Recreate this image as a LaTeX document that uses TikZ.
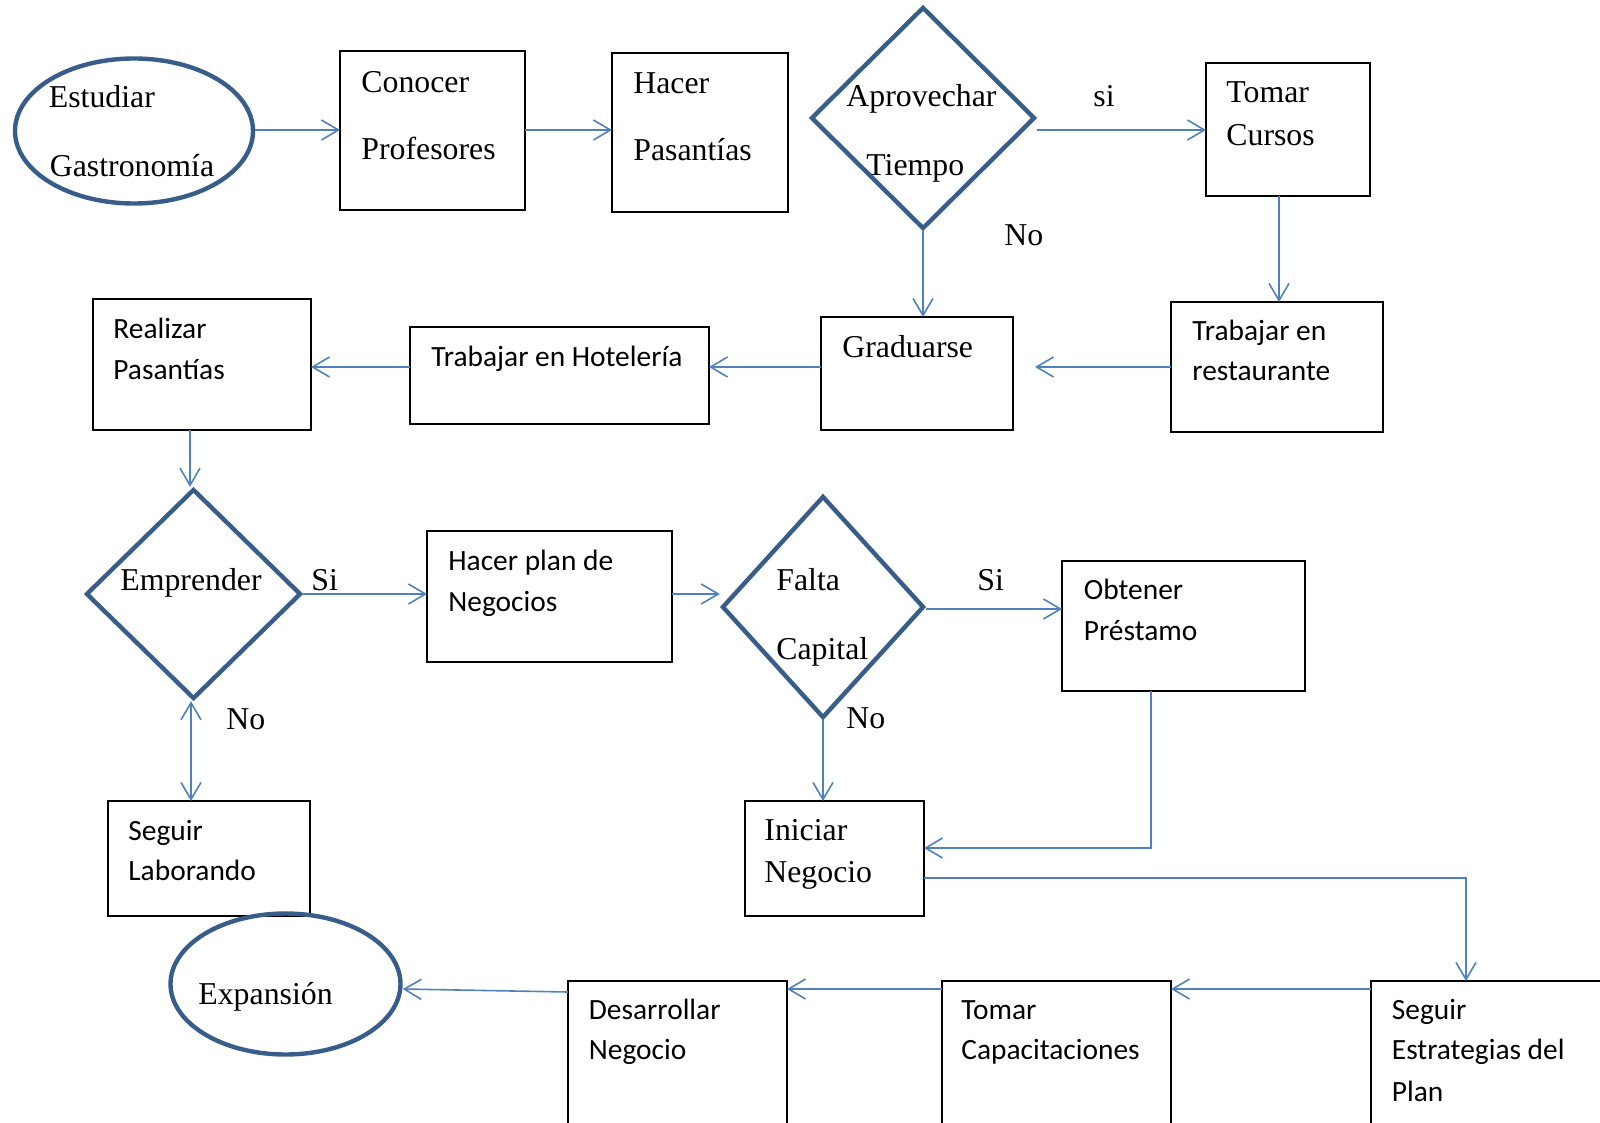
\documentclass[tikz,border=0pt]{standalone}
\usepackage{fontspec}
\usetikzlibrary{shapes.geometric,arrows.meta}
\newfontfamily\timesfont{Liberation Serif}
\newfontfamily\calibrifont{Carlito}
\definecolor{conn}{HTML}{4F81BD}
\definecolor{shapeblue}{HTML}{385D8A}

\begin{document}
\begin{tikzpicture}[x=0.5pt,y=-0.5pt,
  box/.style={draw=black,line width=0.9pt,rectangle,inner sep=0pt,outer sep=0pt,anchor=north west},
  oval/.style={draw=shapeblue,line width=2.2pt,ellipse,inner sep=0pt},
  decision/.style={draw=shapeblue,line width=2.2pt,diamond,inner sep=0pt,line join=miter},
  serif/.style={font=\timesfont\fontsize{15.9}{19}\selectfont,inner sep=0pt,anchor=base west},
  sans/.style={font=\calibrifont\fontsize{14.7}{18}\selectfont,inner sep=0pt,anchor=base west},
  tip/.style={Straight Barb[length=8.5pt,width=10pt,line width=0.8pt]},
  arr/.style={draw=conn,line width=0.8pt,-{Straight Barb[length=8.5pt,width=10pt]}},
  arrboth/.style={draw=conn,line width=0.8pt,{Straight Barb[length=8.5pt,width=10pt]}-{Straight Barb[length=8.5pt,width=10pt]}},
  link/.style={draw=conn,line width=0.8pt}
]
\useasboundingbox (0,0) rectangle (1600,1123);
\clip (0,0) rectangle (1600,1123);

% ---------- shapes ----------
\node[oval,minimum width=119pt,minimum height=72.5pt] (est) at (134,131) {};
\node[box,minimum width=92.5pt,minimum height=79.5pt] (con) at (340,51) {};
\node[box,minimum width=88pt,minimum height=79.5pt] (hac) at (612,53) {};
\node[decision,minimum width=112pt,minimum height=111pt] (apr) at (923,118) {};
\node[box,minimum width=82pt,minimum height=66.5pt] (tcur) at (1206,63) {};

\node[box,minimum width=109pt,minimum height=65.5pt] (real) at (93,299) {};
\node[box,minimum width=149.5pt,minimum height=48.5pt] (hot) at (410,327) {};
\node[box,minimum width=96pt,minimum height=56.5pt] (grad) at (821,317) {};
\node[box,minimum width=106pt,minimum height=65pt] (rest) at (1171,302) {};

\node[decision,minimum width=107.5pt,minimum height=105pt] (emp) at (193.5,594) {};
\node[box,minimum width=122.5pt,minimum height=65.5pt] (plan) at (427,531) {};
\node[decision,minimum width=101pt,minimum height=111pt] (fal) at (823,607) {};
\node[box,minimum width=121.5pt,minimum height=65pt] (obt) at (1062,561) {};

\node[box,minimum width=101pt,minimum height=57.5pt] (slab) at (108,801) {};
\node[box,minimum width=89.5pt,minimum height=57.5pt] (ini) at (745,801) {};

\node[oval,minimum width=115pt,minimum height=70.5pt] (exp) at (285.5,984) {};
\node[box,minimum width=109.5pt,minimum height=85pt] (des) at (568,981) {};
\node[box,minimum width=114.5pt,minimum height=85pt] (tcap) at (942,981) {};
\node[box,minimum width=130pt,minimum height=85pt] (seg) at (1371,981) {};

% ---------- texts ----------
\node[serif] (est1) at (48.5,108) {Estudiar};
\node[serif] (est2) at (49.5,177) {Gastronomía};
\node[serif] (con1) at (361,93) {Conocer};
\node[serif] (con2) at (361,159.5) {Profesores};
\node[serif] (hac1) at (633,93.5) {Hacer};
\node[serif] (hac2) at (633,160.5) {Pasantías};
\node[serif] (apr1) at (846,107) {Aprovechar};
\node[serif] (apr2) at (866,175.5) {Tiempo};
\node[serif] (lsi) at (1093,107) {si};
\node[serif] (tcur1) at (1226,103) {Tomar};
\node[serif] (tcur2) at (1226,145.5) {Cursos};
\node[serif] (lno1) at (1004,245.5) {No};

\node[sans] (real1) at (113,338) {Realizar};
\node[sans] (real2) at (113,379) {Pasantías};
\node[sans] (hot1) at (431,366) {Trabajar en Hotelería};
\node[serif] (grad1) at (842,357.5) {Graduarse};
\node[sans] (rest1) at (1192,340) {Trabajar en};
\node[sans] (rest2) at (1192,380.5) {restaurante};

\node[serif] (emp1) at (120,590.5) {Emprender};
\node[serif] (lsi2) at (311,590) {Si};
\node[serif] (lno2) at (226,729) {No};
\node[sans] (plan1) at (448,570) {Hacer plan de};
\node[sans] (plan2) at (448,611.5) {Negocios};
\node[serif] (fal1) at (776,590.5) {Falta};
\node[serif] (fal2) at (776,659) {Capital};
\node[serif] (lsi3) at (977,590) {Si};
\node[serif] (lno3) at (846,728) {No};
\node[sans] (obt1) at (1083.5,599) {Obtener};
\node[sans] (obt2) at (1083.5,640.5) {Préstamo};

\node[sans] (slab1) at (128,840) {Seguir};
\node[sans] (slab2) at (128,880.5) {Laborando};
\node[serif] (ini1) at (764,840) {Iniciar};
\node[serif] (ini2) at (764,882.5) {Negocio};

\node[serif] (exp1) at (198,1004) {Expansión};
\node[sans] (des1) at (588.5,1019) {Desarrollar};
\node[sans] (des2) at (588.5,1059) {Negocio};
\node[sans] (tcap1) at (961,1019) {Tomar};
\node[sans] (tcap2) at (961,1059) {Capacitaciones};
\node[sans] (seg1) at (1391.5,1019) {Seguir};
\node[sans] (seg2) at (1391.5,1059) {Estrategias del};
\node[sans] (seg3) at (1391.5,1101) {Plan};

% ---------- connectors ----------
\coordinate (gradin) at ([xshift=11pt]grad.east);

\draw[arr] (est.east |- 0,130) -- (con.west |- 0,130);
\draw[arr] (con.east |- 0,130) -- (hac.west |- 0,130);
\draw[arr] (apr.east |- 0,130) -- (tcur.west |- 0,130);
\draw[arr] (tcur.south -| 1279,0) -- (rest.north -| 1279,0);
\draw[arr] (apr.south) -- (grad.north -| apr.south);
\draw[arr] (rest.west |- 0,367) -- (gradin |- 0,367);
\draw[arr] (grad.west |- 0,367) -- (hot.east |- 0,367);
\draw[arr] (hot.west |- 0,367) -- (real.east |- 0,367);
\draw[arr] (real.south -| 190,0) -- (emp.north -| 190,0);
\draw[arr] (emp.east) -- (plan.west |- emp.east);
\draw[arr] (plan.east |- 0,594) -- (fal.west |- 0,594);
\draw[arr] (fal.east |- 0,609) -- (obt.west |- 0,609);
\draw[arrboth] (emp.south -| 191,0) -- (slab.north -| 191,0);
\draw[arr] (fal.south) -- (ini.north -| fal.south);
\draw[arr] (obt.south -| 1151,0) |- (ini.east |- 0,848);
\draw[arr] (ini.east |- 0,878) -| (seg.north -| 1466,0);
\draw[arr] (seg.west |- 0,989) -- (tcap.east |- 0,989);
\draw[arr] (tcap.west |- 0,989) -- (des.east |- 0,989);
\draw[arr] (des.west |- 0,992) -- (exp.east |- 0,989);
\end{tikzpicture}
\end{document}
